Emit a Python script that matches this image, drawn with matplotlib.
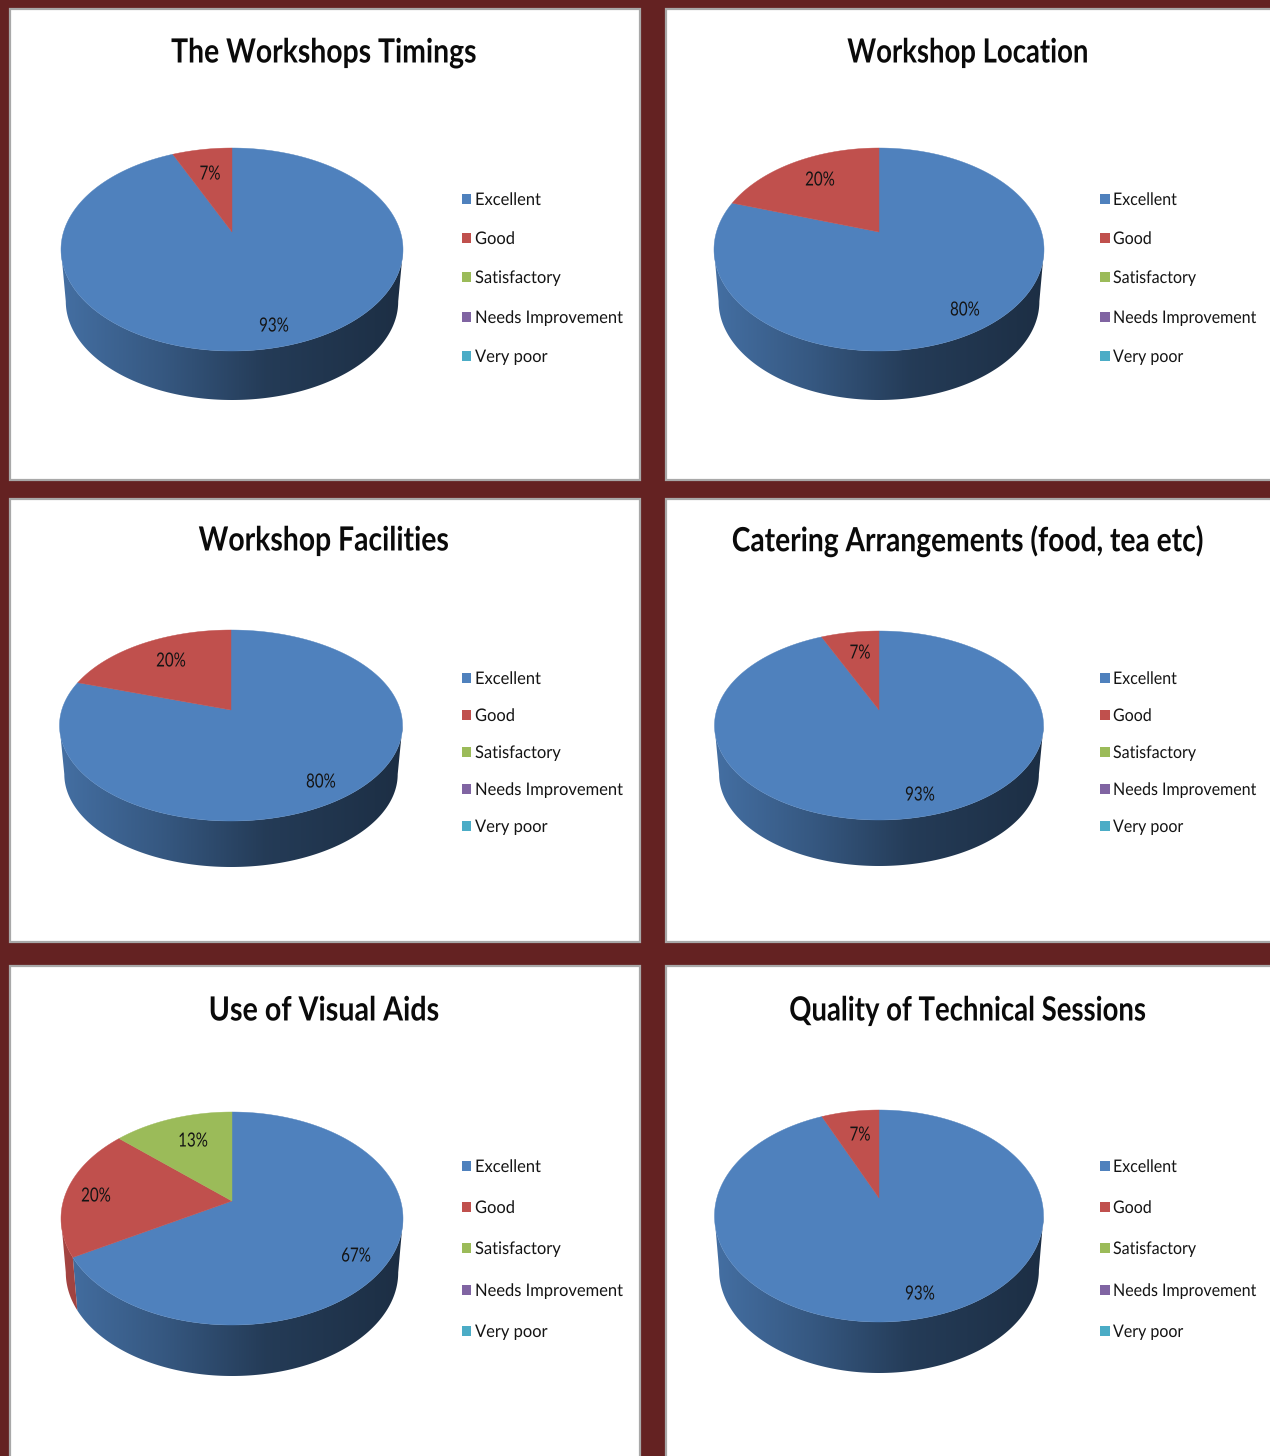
import numpy as np
import matplotlib
matplotlib.use("Agg")
import matplotlib.pyplot as plt
from matplotlib.patches import Rectangle, Polygon
from matplotlib.patheffects import AbstractPathEffect
from matplotlib.transforms import Affine2D

# Survey data (15 responses, so the labels round these)
categories = ["Excellent", "Good", "Satisfactory", "Needs Improvement", "Very poor"]
titles = ["The Workshops Timings", "Workshop Location", "Workshop Facilities",
          "Catering Arrangements (food, tea etc)", "Use of Visual Aids",
          "Quality of Technical Sessions"]
timings = [93.33, 6.67, 0, 0, 0]
location = [80, 20, 0, 0, 0]
facilities = [80, 20, 0, 0, 0]
catering = [93.33, 6.67, 0, 0, 0]
visual_aids = [66.67, 20, 13.33, 0, 0]
technical = [93.33, 6.67, 0, 0, 0]
all_values = [timings, location, facilities, catering, visual_aids, technical]

colors = ["#4f81bd", "#c0504d", "#9bbb59", "#8064a2", "#4bacc6"]
maroon = "#642222"

# Layout in image pixels
panels = [(10, 9, 640, 480), (666, 9, 1275, 480), (10, 499, 640, 942),
          (666, 499, 1275, 942), (10, 966, 640, 1465), (666, 966, 1275, 1465)]
# cx, half width, top, front edge, wall bottom, apex y
pies = [(232, 171, 148, 351, 400, 232), (879, 165, 148, 351, 400, 232),
        (231, 171.5, 630, 821, 867, 710), (879, 164.5, 631, 820, 866, 710),
        (232, 171, 1112, 1325, 1376, 1201), (879, 164.5, 1110, 1322, 1373, 1198)]
title_pos = [(324, 53), (968, 53), (324, 541), (968, 541), (324, 1011), (968, 1011)]
title_narrow = [0.85, 0.825, 0.85, 0.845, 0.86, 0.825]
legend_rows = [[200, 239, 278, 318, 357], [200, 239, 278, 318, 357],
               [679, 716, 753, 790, 827], [679, 716, 753, 790, 827],
               [1167, 1208, 1249, 1291, 1332], [1167, 1208, 1249, 1291, 1332]]
legend_x = [(466.5, 475), (1105, 1113)] * 3
legend_narrow = [0.95, 0.92] * 3
label_pos = [[(274, 326), (210, 174)], [(965, 310), (820, 180)],
             [(321, 782), (171, 661)], [(920, 795), (860, 653)],
             [(356, 1256), (96, 1196), (193, 1141)], [(920, 1294), (860, 1135)]]

plt.rcParams["font.family"] = ["Lato", "DejaVu Sans"]


class Narrow(AbstractPathEffect):
    # squeezes the glyphs sideways, the reference font is a tall narrow one
    def __init__(self, factor, centred=True):
        super().__init__()
        self.factor = factor
        self.centred = centred

    def draw_path(self, renderer, gc, tpath, affine, rgbFace=None):
        shift = 0
        if self.centred:
            ext = tpath.get_extents()
            shift = (ext.x0 + ext.x1) / 2 * (1 - self.factor)
        squeeze = Affine2D().scale(self.factor, 1).translate(shift, 0)
        renderer.draw_path(gc, tpath, squeeze + affine, rgbFace)


fig = plt.figure(figsize=(12.7, 14.56), dpi=100, facecolor=maroon)
ax = fig.add_axes([0, 0, 1, 1])
ax.axis("off")


def top_face(theta, pie):
    # angle runs clockwise from the top, perspective puts the apex above the ellipse centre
    cx, rx, top, front, bottom, apex = pie
    up = apex - top
    down = front - apex
    k = (down - up) / (down + up)
    b = up * (1 + k)
    a = rx * np.sqrt(1 - k ** 2)
    u = np.sin(theta)
    v = np.cos(theta)
    return cx + a * u / (1 + k * v), apex - b * v / (1 + k * v), k


def wall_edge(theta, pie):
    cx, rx, top, front, bottom, apex = pie
    x, y, k = top_face(theta, pie)
    mid = (top + front) / 2
    s = 0.972
    shift = bottom - (mid + (front - top) / 2 * s)
    return cx + (x - cx) * s, mid + (y - mid) * s + shift


for i in range(6):
    x0, y0, x1, y1 = panels[i]
    ax.add_patch(Rectangle((x0, y0), x1 - x0, y1 - y0, facecolor="white",
                           edgecolor="#a8a8a8", linewidth=1.6, zorder=1))
    ax.text(title_pos[i][0], title_pos[i][1], titles[i], fontsize=24, color="#0a0a0a",
            ha="center", va="center", fontweight="bold", zorder=5,
            path_effects=[Narrow(title_narrow[i])])

    pie = pies[i]
    cx, rx, top, front, bottom, apex = pie
    vals = np.array(all_values[i], dtype=float)
    edges = np.concatenate([[0], np.cumsum(vals) / vals.sum() * 2 * np.pi])
    k = top_face(0.0, pie)[2]
    wall_start = np.arccos(-k)
    wall_end = 2 * np.pi - wall_start

    for j in range(len(vals)):
        if vals[j] == 0:
            continue
        # side wall, shaded left to right
        a1 = max(edges[j], wall_start)
        a2 = min(edges[j + 1], wall_end)
        if a2 > a1:
            th = np.linspace(a1, a2, 200)
            xt, yt, _ = top_face(th, pie)
            xb, yb = wall_edge(th, pie)
            poly = Polygon(np.column_stack([np.r_[xt, xb[::-1]], np.r_[yt, yb[::-1]]]),
                           closed=True, facecolor="none", edgecolor="none",
                           transform=ax.transData)
            ax.add_patch(poly)
            xs = np.linspace(cx - rx, cx + rx, 256)
            pos = (xs - (cx - rx)) / (2 * rx)
            shade = np.interp(pos, [0, 0.3, 0.6, 1], [0.86, 0.68, 0.46, 0.36])
            base = np.array(matplotlib.colors.to_rgb(colors[j]))
            grad = (shade[:, None] * base)[None, :, :]
            im = ax.imshow(grad, extent=(cx - rx, cx + rx, bottom + 2, top), aspect="auto", zorder=2)
            im.set_clip_path(poly)

        # top face
        th = np.linspace(edges[j], edges[j + 1], 300)
        xt, yt, _ = top_face(th, pie)
        if vals[j] < vals.sum():
            xt = np.r_[cx, xt]
            yt = np.r_[apex, yt]
        ax.fill(xt, yt, color=colors[j], linewidth=0.3, zorder=3)

    # percentage labels for the non zero slices
    shown = [v for v in all_values[i] if v > 0]
    for v, pos in zip(shown, label_pos[i]):
        ax.text(pos[0], pos[1], f"{v:.0f}%", fontsize=14, color="#141414",
                ha="center", va="center", zorder=5, path_effects=[Narrow(0.78)])

    # legend
    ax.scatter([legend_x[i][0]] * 5, [y - 1 for y in legend_rows[i]], marker="s", s=48, c=colors,
               linewidths=0, zorder=4)
    for name, y in zip(categories, legend_rows[i]):
        ax.text(legend_x[i][1], y, name, fontsize=12.5, color="#141414",
                ha="left", va="center", zorder=5,
                path_effects=[Narrow(legend_narrow[i], centred=False)])

ax.set_xlim(0, 1270)
ax.set_ylim(1456, 0)
fig.savefig("out.png", dpi=100, facecolor=maroon)
